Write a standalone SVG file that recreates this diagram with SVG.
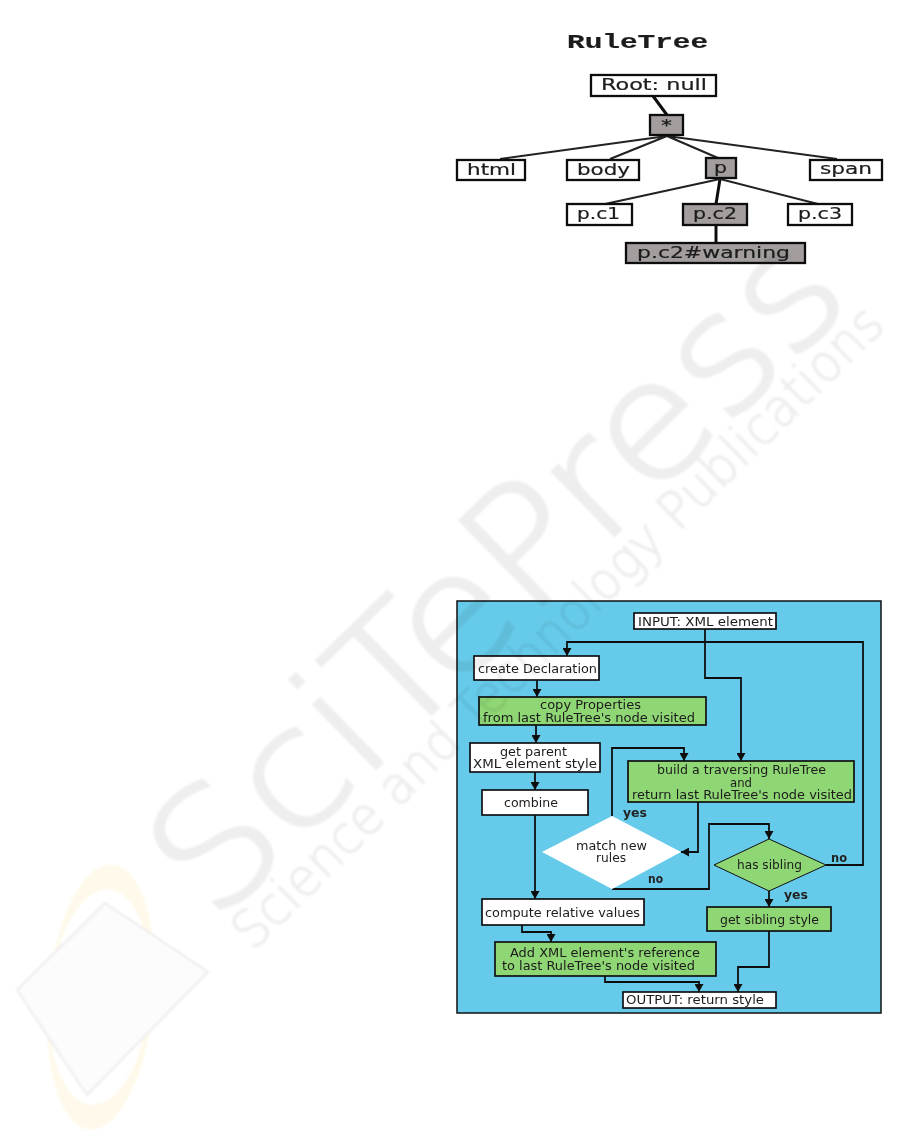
<svg xmlns="http://www.w3.org/2000/svg" width="901" height="1144" viewBox="0 0 901 1144">
<style>
text{font-family:"DejaVu Sans",sans-serif;fill:#1c1c1c}
.f{font-size:11.5px}
.t{font-size:16px;stroke:#1c1c1c;stroke-width:.2}
.l{font-size:12px;font-weight:700;fill:#222}
.box{stroke:#111;stroke-width:1.7}
.tb{stroke:#111;stroke-width:2.3}
.w{fill:#fff}.g{fill:#8fd674}.d{fill:#a39d9d}
.ca{fill:none;stroke:#111;stroke-width:1.8;marker-end:url(#a)}
.e{fill:none;stroke:#222;stroke-width:2.1}
.e2{fill:none;stroke:#111;stroke-width:3}
.wm{fill:#eeeeee;stroke:#eeeeee;font-weight:200}
</style>
<defs>
<marker id="a" markerUnits="userSpaceOnUse" markerWidth="10" markerHeight="9" refX="8" refY="4.5" orient="auto"><path d="M0 0L8 4.5L0 9Z" fill="#111"/></marker>
<filter id="b" x="-5%" y="-5%" width="110%" height="110%"><feGaussianBlur stdDeviation="0.8"/></filter>
<filter id="s" x="-2%" y="-2%" width="104%" height="104%"><feGaussianBlur stdDeviation="0.3"/></filter>
</defs>
<rect width="901" height="1144" fill="#fff"/>
<g id="logo" filter="url(#b)">
<ellipse cx="101" cy="997" rx="53" ry="133" transform="rotate(5 101 997)" fill="#fef9ea"/>
<ellipse cx="100" cy="997" rx="50" ry="108" transform="rotate(5 100 997)" fill="#fff"/>
<path d="M105 903L208 972L87 1095L17 990Z" fill="#fcfcfc" stroke="#ececec" stroke-width="2"/>
</g>
<g filter="url(#s)">
<rect id="panel" x="457" y="601" width="424" height="412" fill="#66cbea" stroke="#111" stroke-width="1.5"/>
<text id="title" x="567" y="48" style="font-family:'Liberation Mono',monospace;font-size:20px;font-weight:700;stroke:#1c1c1c;stroke-width:.2" textLength="141" lengthAdjust="spacingAndGlyphs">RuleTree</text>
<g id="connectors">
<path class="e2" d="M653 96L667 115M716 225V243M720 179L716 204"/>
<path class="e" d="M667 136L500 159M667 136L610 159M667 136L718 158M667 136L837 159M720 179L605 204M720 179L818 204"/>
<path class="ca" d="M705 629V678H741V761"/>
<path class="ca" d="M826 865H863V642H567V656"/>
<path class="ca" d="M537 680V697"/>
<path class="ca" d="M536 725V743"/>
<path class="ca" d="M535 772V790"/>
<path class="ca" d="M535 815V899"/>
<path class="ca" d="M612 816V748H684V761"/>
<path class="ca" d="M698 802V852H681"/>
<path class="ca" d="M612 889H709V824H769V839"/>
<path class="ca" d="M769 891V907"/>
<path class="ca" d="M769 931V967H738V992"/>
<path class="ca" d="M522 925V932H551V942"/>
<path class="ca" d="M605 976V982H699V992"/>
</g>
<g id="n-root"><rect class="tb w" x="591" y="75" width="125" height="21"/><text class="t" x="601" y="90" textLength="106" lengthAdjust="spacingAndGlyphs">Root: null</text></g>
<g id="n-star"><rect class="tb d" x="650" y="115" width="33" height="20"/><text class="t" x="661" y="131" textLength="11" lengthAdjust="spacingAndGlyphs">*</text></g>
<g id="n-html"><rect class="tb w" x="457" y="160" width="68" height="20"/><text class="t" x="467" y="175" textLength="49" lengthAdjust="spacingAndGlyphs">html</text></g>
<g id="n-body"><rect class="tb w" x="567" y="160" width="72" height="20"/><text class="t" x="577" y="175" textLength="53" lengthAdjust="spacingAndGlyphs">body</text></g>
<g id="n-p"><rect class="tb d" x="706" y="158" width="30" height="20"/><text class="t" x="714" y="173" textLength="13" lengthAdjust="spacingAndGlyphs">p</text></g>
<g id="n-span"><rect class="tb w" x="810" y="160" width="72" height="20"/><text class="t" x="820" y="174" textLength="52" lengthAdjust="spacingAndGlyphs">span</text></g>
<g id="n-pc1"><rect class="tb w" x="567" y="204" width="65" height="21"/><text class="t" x="577" y="219" textLength="43" lengthAdjust="spacingAndGlyphs">p.c1</text></g>
<g id="n-pc2"><rect class="tb d" x="683" y="204" width="64" height="21"/><text class="t" x="693" y="219" textLength="44" lengthAdjust="spacingAndGlyphs">p.c2</text></g>
<g id="n-pc3"><rect class="tb w" x="788" y="204" width="64" height="21"/><text class="t" x="798" y="219" textLength="44" lengthAdjust="spacingAndGlyphs">p.c3</text></g>
<g id="n-warning"><rect class="tb d" x="626" y="243" width="179" height="20"/><text class="t" x="637" y="258" textLength="153" lengthAdjust="spacingAndGlyphs">p.c2#warning</text></g>
<g id="n-input"><rect class="box w" x="634" y="613" width="142" height="16"/><text class="f" x="638" y="626" textLength="135" lengthAdjust="spacingAndGlyphs">INPUT: XML element</text></g>
<g id="n-create"><rect class="box w" x="474" y="656" width="125" height="24"/><text class="f" x="478" y="673" textLength="119" lengthAdjust="spacingAndGlyphs">create Declaration</text></g>
<g id="n-copy"><rect class="box g" x="479" y="697" width="227" height="28"/><text class="f" x="540" y="709" textLength="101" lengthAdjust="spacingAndGlyphs">copy Properties</text><text class="f" x="483" y="722" textLength="212" lengthAdjust="spacingAndGlyphs">from last RuleTree's node visited</text></g>
<g id="n-parent"><rect class="box w" x="470" y="743" width="130" height="29"/><text class="f" x="500" y="756" textLength="67" lengthAdjust="spacingAndGlyphs">get parent</text><text class="f" x="473" y="768" textLength="124" lengthAdjust="spacingAndGlyphs">XML element  style</text></g>
<g id="n-combine"><rect class="box w" x="482" y="790" width="106" height="25"/><text class="f" x="504" y="807" textLength="54" lengthAdjust="spacingAndGlyphs">combine</text></g>
<g id="n-build"><rect class="box g" x="628" y="761" width="226" height="41"/><text class="f" x="657" y="774" textLength="169" lengthAdjust="spacingAndGlyphs">build a traversing RuleTree</text><text class="f" x="730" y="787" textLength="22" lengthAdjust="spacingAndGlyphs">and</text><text class="f" x="632" y="799" textLength="220" lengthAdjust="spacingAndGlyphs">return last RuleTree's node visited</text></g>
<g id="n-match"><path d="M612 816L681 852L612 889L542 852Z" fill="#fff"/><text class="f" x="576" y="850" textLength="71" lengthAdjust="spacingAndGlyphs">match new</text><text class="f" x="596" y="862" textLength="30" lengthAdjust="spacingAndGlyphs">rules</text></g>
<g id="n-sibling"><path d="M769 839L826 865L769 891L714 865Z" fill="#8fd674" stroke="#111" stroke-width="1"/><text class="f" x="737" y="869" textLength="65" lengthAdjust="spacingAndGlyphs">has sibling</text></g>
<g id="n-compute"><rect class="box w" x="482" y="899" width="162" height="26"/><text class="f" x="485" y="917" textLength="155" lengthAdjust="spacingAndGlyphs">compute relative values</text></g>
<g id="n-getsib"><rect class="box g" x="707" y="907" width="124" height="24"/><text class="f" x="720" y="924" textLength="99" lengthAdjust="spacingAndGlyphs">get sibling style</text></g>
<g id="n-add"><rect class="box g" x="495" y="942" width="221" height="34"/><text class="f" x="510" y="957" textLength="190" lengthAdjust="spacingAndGlyphs">Add XML element's reference</text><text class="f" x="502" y="970" textLength="193" lengthAdjust="spacingAndGlyphs">to last RuleTree's node visited</text></g>
<g id="n-output"><rect class="box w" x="623" y="992" width="153" height="16"/><text class="f" x="626" y="1004" textLength="138" lengthAdjust="spacingAndGlyphs">OUTPUT: return style</text></g>
<g id="labels">
<text class="l" x="623" y="817" textLength="24" lengthAdjust="spacingAndGlyphs">yes</text>
<text class="l" x="648" y="883" textLength="15" lengthAdjust="spacingAndGlyphs">no</text>
<text class="l" x="831" y="862" textLength="16" lengthAdjust="spacingAndGlyphs">no</text>
<text class="l" x="784" y="899" textLength="24" lengthAdjust="spacingAndGlyphs">yes</text>
</g>
</g>
<g id="watermark" filter="url(#b)" style="mix-blend-mode:multiply">
<text class="wm" transform="translate(215 925) rotate(-44.3)" font-size="162" stroke-width="3.5" textLength="894" lengthAdjust="spacingAndGlyphs">SciTePress</text>
<text class="wm" transform="translate(253 952) rotate(-44.6)" font-size="52" stroke-width="1.2" textLength="890" lengthAdjust="spacingAndGlyphs">Science and Technology Publications</text>
</g>
</svg>
